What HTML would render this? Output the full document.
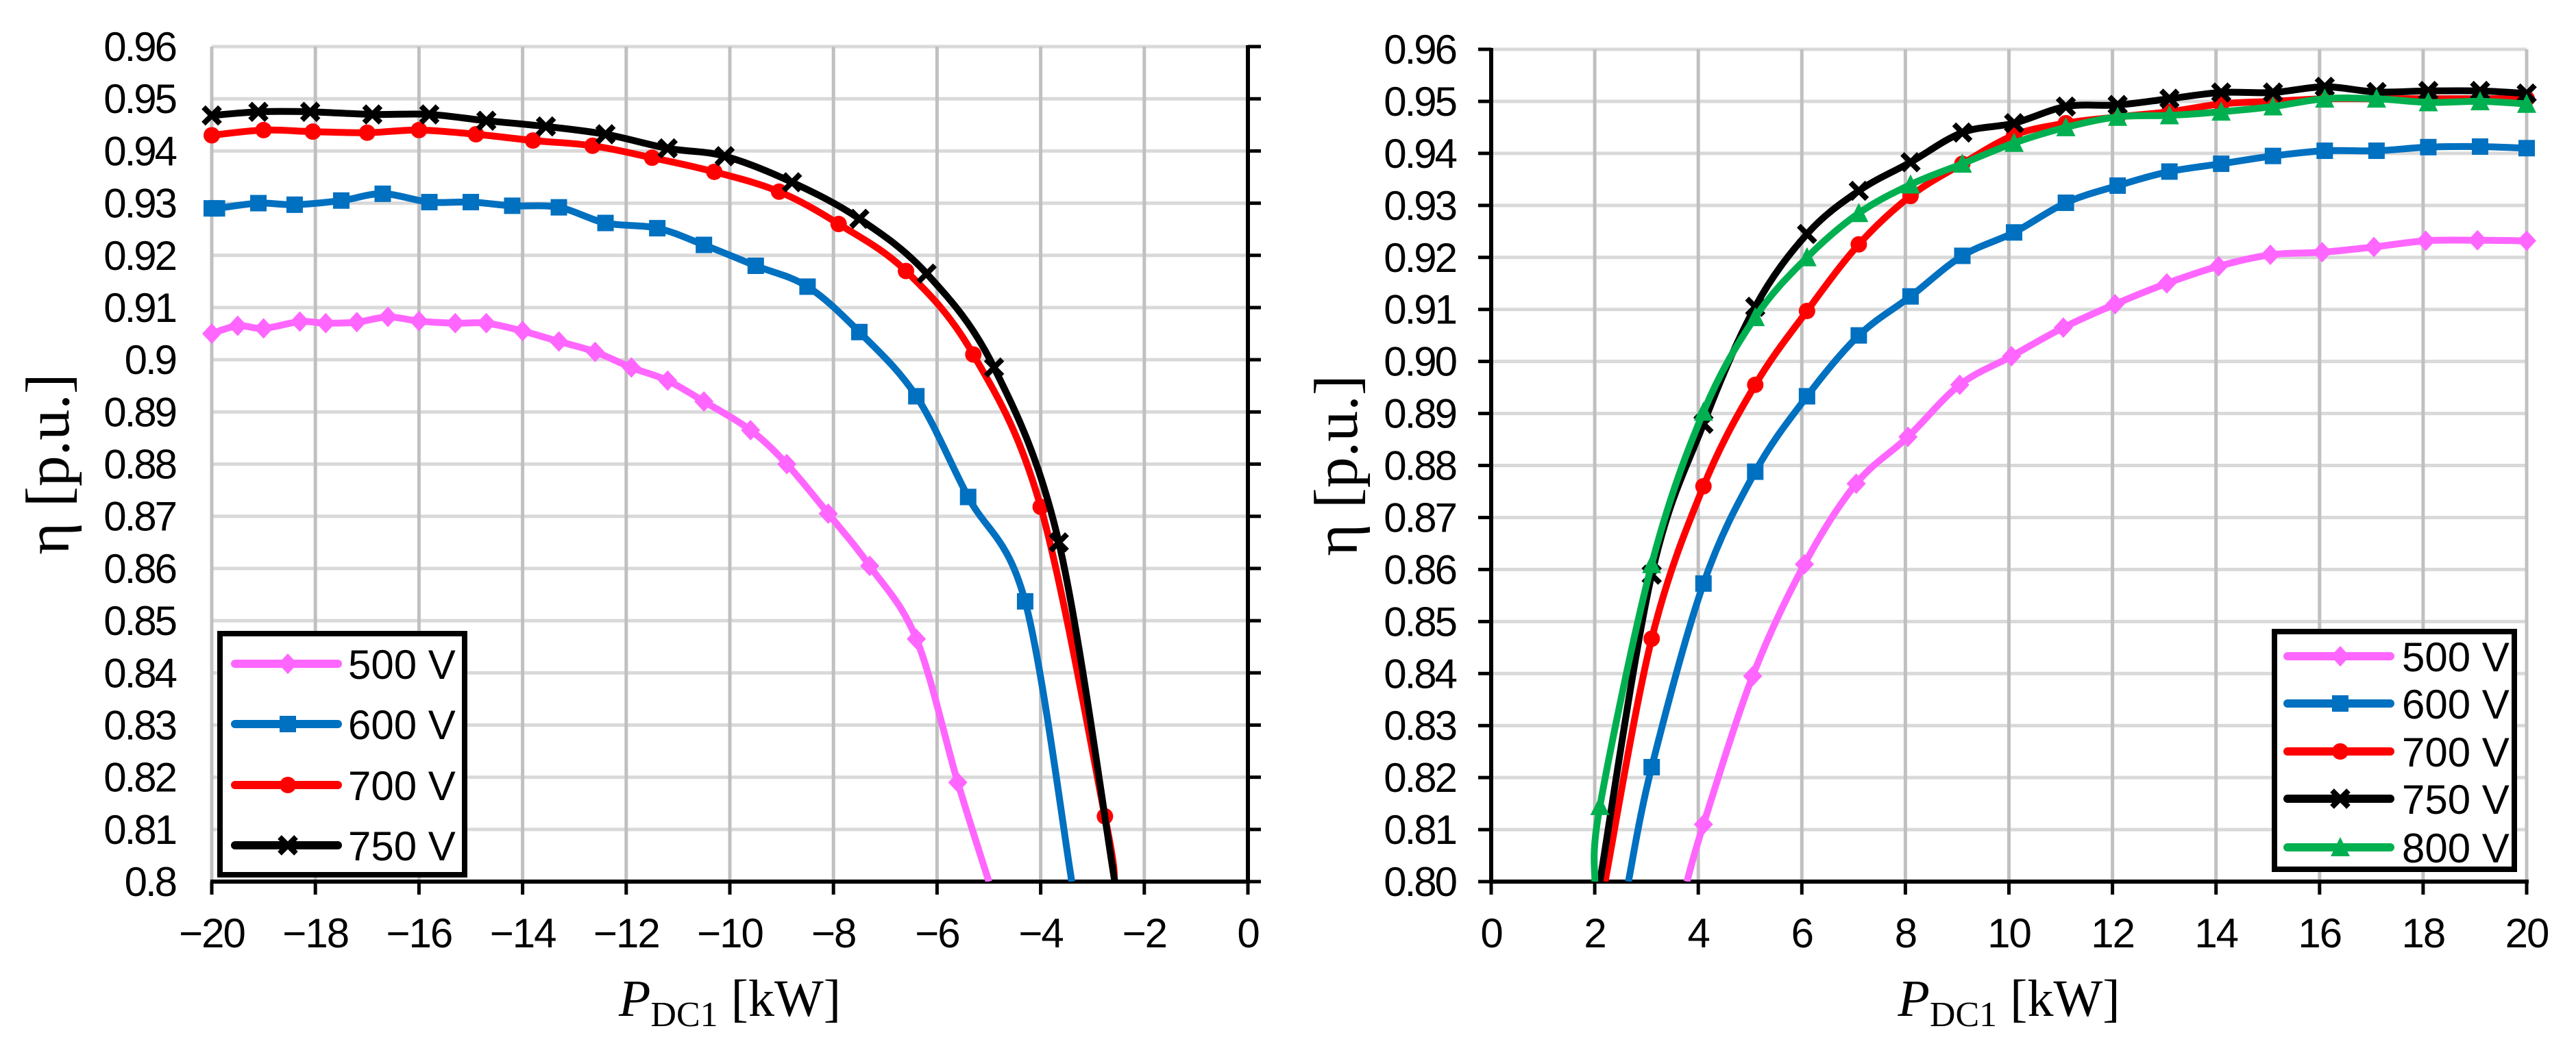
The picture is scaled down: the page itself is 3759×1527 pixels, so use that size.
<!DOCTYPE html>
<html><head><meta charset="utf-8"><style>
html,body{margin:0;padding:0;background:#fff;}
svg text{font-family:"Liberation Sans",Arial,sans-serif;}
</style></head><body>
<svg id="svg" width="3759" height="1522" viewBox="0 0 3759 1522" xmlns="http://www.w3.org/2000/svg">
<g id="left"></g>
<g id="right"></g>
</svg>
<script>
// ---- data: left chart (discharge) ----
const leftX500=[-20,-19.5,-19,-18.3,-17.8,-17.2,-16.6,-16,-15.3,-14.7,-14,-13.3,-12.6,-11.9,-11.2,-10.5,-9.6,-8.9,-8.1,-7.3,-6.4,-5.6,-5.0];
const leftY500=[0.905,0.9065,0.906,0.9073,0.907,0.9072,0.9082,0.9074,0.907,0.907,0.9055,0.9035,0.9015,0.8985,0.896,0.892,0.8865,0.880,0.8705,0.8605,0.8465,0.819,0.8];
const leftX600=[-20,-19.9,-19.1,-18.4,-17.5,-16.7,-15.8,-15,-14.2,-13.3,-12.4,-11.4,-10.5,-9.5,-8.5,-7.5,-6.4,-5.4,-4.3,-3.4];
const leftY600=[0.929,0.929,0.930,0.9297,0.9305,0.9318,0.9302,0.9302,0.9295,0.9292,0.9262,0.9252,0.922,0.918,0.914,0.9053,0.893,0.8737,0.8537,0.8];
const leftX700=[-20,-19,-18.05,-17,-16,-14.9,-13.8,-12.65,-11.5,-10.3,-9.05,-7.9,-6.6,-5.3,-4,-2.76,-2.57];
const leftY700=[0.943,0.944,0.9437,0.9435,0.944,0.9432,0.942,0.941,0.9387,0.936,0.9322,0.926,0.917,0.901,0.8718,0.8125,0.8];
const leftX750=[-20,-19.1,-18.1,-16.9,-15.8,-14.7,-13.55,-12.4,-11.2,-10.1,-8.8,-7.5,-6.2,-4.9,-3.65,-2.57];
const leftY750=[0.9468,0.9475,0.9475,0.947,0.947,0.9458,0.9447,0.9432,0.9405,0.939,0.934,0.927,0.9165,0.8985,0.865,0.8];
// ---- data: right chart (charge) ----
const rightX500=[3.78,4.1,5.05,6.05,7.05,8.05,9.05,10.05,11.05,12.05,13.05,14.05,15.05,16.05,17.05,18.05,19.05,20];
const rightY500=[0.80,0.811,0.8395,0.861,0.8765,0.8855,0.8955,0.901,0.9065,0.911,0.915,0.9183,0.9205,0.921,0.922,0.9232,0.9233,0.9232];
const rightX600=[2.65,3.1,4.1,5.1,6.1,7.1,8.1,9.1,10.1,11.1,12.1,13.1,14.1,15.1,16.1,17.1,18.1,19.1,20];
const rightY600=[0.80,0.822,0.8573,0.8788,0.8933,0.905,0.9125,0.9203,0.9248,0.9305,0.9338,0.9365,0.938,0.9395,0.9405,0.9405,0.9412,0.9413,0.941];
const rightX700=[2.2,3.1,4.1,5.1,6.1,7.1,8.1,9.1,10.1,11.1,12.1,13.1,14.1,15.1,16.1,17.1,18.1,19.1,20];
const rightY700=[0.80,0.8467,0.876,0.8955,0.9097,0.9225,0.9318,0.938,0.9435,0.9458,0.947,0.948,0.9495,0.950,0.9505,0.9505,0.9505,0.9505,0.9505];
const rightX750=[2.1,3.1,4.1,5.1,6.1,7.1,8.1,9.1,10.1,11.1,12.1,13.1,14.1,15.1,16.1,17.1,18.1,19.1,20];
const rightY750=[0.80,0.859,0.888,0.9105,0.9245,0.9328,0.9383,0.944,0.9458,0.949,0.9493,0.9505,0.9517,0.9517,0.9528,0.9518,0.952,0.952,0.9515];
const rightX800=[2.0,2.1,3.1,4.1,5.1,6.1,7.1,8.1,9.1,10.1,11.1,12.1,13.1,14.1,15.1,16.1,17.1,18.1,19.1,20];
const rightY800=[0.80,0.8145,0.861,0.8903,0.9085,0.920,0.9285,0.934,0.938,0.942,0.945,0.947,0.9473,0.948,0.949,0.9505,0.9505,0.9498,0.950,0.9495];
const yTicks=[0.80,0.81,0.82,0.83,0.84,0.85,0.86,0.87,0.88,0.89,0.90,0.91,0.92,0.93,0.94,0.95,0.96];
const leftYLabels=["0.8","0.81","0.82","0.83","0.84","0.85","0.86","0.87","0.88","0.89","0.9","0.91","0.92","0.93","0.94","0.95","0.96"];
const rightYLabels=["0.80","0.81","0.82","0.83","0.84","0.85","0.86","0.87","0.88","0.89","0.90","0.91","0.92","0.93","0.94","0.95","0.96"];
const leftXTicks=[-20,-18,-16,-14,-12,-10,-8,-6,-4,-2,0];
const rightXTicks=[0,2,4,6,8,10,12,14,16,18,20];
const seriesNames=["500 V","600 V","700 V","750 V","800 V"];

const NS="http://www.w3.org/2000/svg";
const COLORS={"500 V":"#ff66ff","600 V":"#0070c0","700 V":"#ff0000","750 V":"#000000","800 V":"#00b050"};
const MARK={"500 V":"diamond","600 V":"square","700 V":"circle","750 V":"cross","800 V":"triangle"};
function mk(parent,tag,attrs){const e=document.createElementNS(NS,tag);for(const k in attrs)e.setAttribute(k,attrs[k]);parent.appendChild(e);return e;}
function smooth(pts){if(pts.length<2)return"";let d="M"+pts[0][0]+","+pts[0][1];
 for(let i=0;i<pts.length-1;i++){const p0=pts[i-1]||pts[i],p1=pts[i],p2=pts[i+1],p3=pts[i+2]||p2;
  const c1=[p1[0]+(p2[0]-p0[0])/6,p1[1]+(p2[1]-p0[1])/6],c2=[p2[0]-(p3[0]-p1[0])/6,p2[1]-(p3[1]-p1[1])/6];
  d+=" C"+c1[0].toFixed(1)+","+c1[1].toFixed(1)+" "+c2[0].toFixed(1)+","+c2[1].toFixed(1)+" "+p2[0].toFixed(1)+","+p2[1].toFixed(1);}
 return d;}
function marker(g,type,x,y,c){let e;
 if(type==="diamond")e=mk(g,"polygon",{points:`${x},${y-15} ${x+14},${y} ${x},${y+15} ${x-14},${y}`,fill:c});
 else if(type==="square")e=mk(g,"rect",{x:x-12,y:y-12,width:24,height:24,fill:c});
 else if(type==="circle")e=mk(g,"circle",{cx:x,cy:y,r:12,fill:c});
 else if(type==="triangle")e=mk(g,"polygon",{points:`${x},${y-15} ${x+14},${y+13} ${x-14},${y+13}`,fill:c});
 else e=mk(g,"path",{d:`M${x-12},${y-12}L${x+12},${y+12}M${x+12},${y-12}L${x-12},${y+12}`,stroke:c,"stroke-width":8});
 return e;}

function chart(cfg){
 const g=document.getElementById(cfg.id);
 const X=v=>cfg.x0+(v-cfg.xmin)/(cfg.xmax-cfg.xmin)*(cfg.x1-cfg.x0);
 const Y=v=>cfg.y1-(v-0.8)/(0.16)*(cfg.y1-cfg.y0);
 const grid=mk(g,"g",{});
 
 
 yTicks.forEach(v=>{mk(grid,"line",{x1:cfg.x0,x2:cfg.x1,y1:Y(v),y2:Y(v),stroke:"#d9d9d9","stroke-width":5});});
 cfg.xticks.forEach(v=>{mk(grid,"line",{x1:X(v),x2:X(v),y1:cfg.y0,y2:cfg.y1,stroke:"#c0c0c0","stroke-width":5});});
 const ax=mk(g,"g",{});
 
 
 const ya=cfg.yAxisX;
 mk(ax,"line",{x1:ya,x2:ya,y1:cfg.y0-2,y2:cfg.y1+3,stroke:"#000","stroke-width":6});
 yTicks.forEach(v=>{mk(ax,"line",{x1:ya+cfg.tickDir*19,x2:ya,y1:Y(v),y2:Y(v),stroke:"#000","stroke-width":5});});
 mk(ax,"line",{x1:cfg.x0-2,x2:cfg.x1+3,y1:cfg.y1,y2:cfg.y1,stroke:"#000","stroke-width":6});
 cfg.xticks.forEach(v=>{mk(ax,"line",{x1:X(v),x2:X(v),y1:cfg.y1,y2:cfg.y1+19,stroke:"#000","stroke-width":5});});
 const tl=mk(g,"g",{"font-size":60,fill:"#000"});
 
 
 yTicks.forEach((v,i)=>{const t=mk(tl,"text",{x:cfg.ylabX,y:Y(v)+21,"text-anchor":"end","letter-spacing":-3});t.textContent=cfg.ylabels[i];});
 const xl=mk(g,"g",{"font-size":60,fill:"#000"});
 
 
 cfg.xticks.forEach(v=>{const t=mk(xl,"text",{x:X(v),y:1383,"text-anchor":"middle","letter-spacing":-2});t.textContent=(v<0?"\u2212"+(-v):String(v));});
 const yt=mk(g,"text",{x:0,y:0,"font-size":90,"text-anchor":"middle",transform:`translate(${cfg.ytitleX},${(cfg.y0+cfg.y1)/2}) rotate(-90)`,style:"font-family:'Liberation Serif',serif"});
 
 
 yt.textContent="\u03b7 [p.u.]";
 const xt=mk(g,"text",{x:(cfg.x0+cfg.x1)/2,y:1483,"font-size":76,"text-anchor":"middle",style:"font-family:'Liberation Serif',serif"});
 
 
 xt.innerHTML='<tspan font-style="italic">P</tspan><tspan font-size="52" dy="15">DC1</tspan><tspan dy="-15"> [kW]</tspan>';
 const clipId=cfg.id+"-clip";
 const cp=mk(mk(g,"defs",{}),"clipPath",{id:clipId});
 mk(cp,"rect",{x:cfg.x0-30,y:cfg.y0-30,width:cfg.x1-cfg.x0+60,height:cfg.y1-cfg.y0+30});
 cfg.series.forEach(s=>{
  const sg=mk(g,"g",{"clip-path":`url(#${clipId})`});
  
  
  const pts=s.x.map((v,i)=>[X(v),Y(s.y[i])]);
  mk(sg,"path",{d:smooth(pts),fill:"none",stroke:COLORS[s.name],"stroke-width":10,"stroke-linejoin":"round"});
  s.x.forEach((v,i)=>{ if(s.y[i]<=0.8001) return; if(i===0&&cfg.skipFirst) return; if(i===s.x.length-1&&cfg.skipLast) return;
   const m=marker(sg,MARK[s.name],X(v),Y(s.y[i]),COLORS[s.name]);
   
   });
 });
 const L=cfg.legend;
 const lg=mk(g,"g",{});
 
 
 mk(lg,"rect",{x:L.x,y:L.y,width:L.w,height:L.h,fill:"#fff",stroke:"#000","stroke-width":8});
 cfg.series.forEach((s,i)=>{
  const yy=L.ys[i];
  const e=mk(lg,"g",{});
  
  
  mk(e,"line",{x1:L.lx,x2:L.lx+150,y1:yy,y2:yy,stroke:COLORS[s.name],"stroke-width":12,"stroke-linecap":"round"});
  marker(e,MARK[s.name],L.lx+77,yy,COLORS[s.name]);
  const t=mk(e,"text",{x:L.tx,y:yy+22,"font-size":60});t.textContent=s.name;
 });
}
chart({id:"left",x0:309,x1:1821,y0:68,y1:1287,xmin:-20,xmax:0,xticks:leftXTicks,yAxisX:1821,tickDir:1,ylabX:256,ylabels:leftYLabels,ytitleX:100,skipLast:true,
 series:[{name:seriesNames[0],x:leftX500,y:leftY500},{name:seriesNames[1],x:leftX600,y:leftY600},{name:seriesNames[2],x:leftX700,y:leftY700},{name:seriesNames[3],x:leftX750,y:leftY750}],
 legend:{x:321,y:925,w:357,h:352,ys:[969,1057,1146,1234],lx:343,tx:508}});
chart({id:"right",x0:2176,x1:3687,y0:72,y1:1287,xmin:0,xmax:20,xticks:rightXTicks,yAxisX:2176,tickDir:-1,ylabX:2124,ylabels:rightYLabels,ytitleX:1980,skipFirst:true,
 series:[{name:seriesNames[0],x:rightX500,y:rightY500},{name:seriesNames[1],x:rightX600,y:rightY600},{name:seriesNames[2],x:rightX700,y:rightY700},{name:seriesNames[3],x:rightX750,y:rightY750},{name:seriesNames[4],x:rightX800,y:rightY800}],
 legend:{x:3319,y:922,w:350,h:347,ys:[958,1027,1097,1166,1237],lx:3338,tx:3505}});
</script>
</body></html>
